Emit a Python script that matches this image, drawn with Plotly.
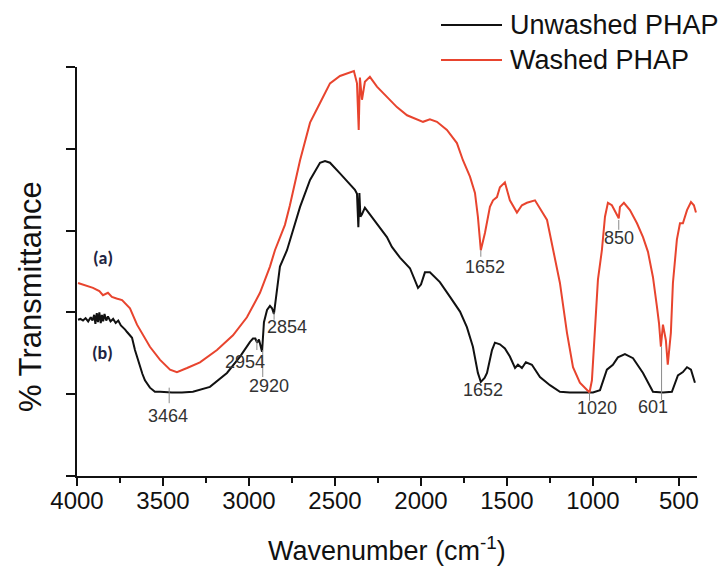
import plotly.graph_objects as go

# ---------------- data ----------------
unwashed_wn = [3994, 3980, 3965, 3950, 3935, 3920, 3910, 3900, 3893, 3885, 3878, 3870, 3862, 3855,
               3848, 3840, 3830, 3820, 3805, 3790, 3775, 3760, 3745, 3733, 3720, 3709, 3695, 3680,
               3663, 3650, 3634, 3620, 3605, 3590, 3576, 3547, 3517, 3448, 3390, 3326, 3227, 3128,
               3052, 2994, 2977, 2963, 2953, 2942, 2924, 2913, 2895, 2878, 2866, 2855, 2837, 2820,
               2779, 2744, 2703, 2645, 2587, 2558, 2529, 2471, 2413, 2384, 2372, 2364, 2358, 2352,
               2343, 2326, 2308, 2256, 2198, 2169, 2122, 2064, 2035, 2017, 2000, 1977, 1948, 1890,
               1831, 1773, 1733, 1698, 1669, 1652, 1630, 1616, 1587, 1570, 1541, 1512, 1483, 1453,
               1436, 1413, 1390, 1355, 1308, 1250, 1192, 1134, 1058, 1000, 959, 919, 884, 855, 814,
               767, 709, 651, 593, 541, 506, 477, 453, 430, 407]
unwashed_t = [1.91, 1.92, 1.90, 1.93, 1.89, 1.94, 1.90, 1.97, 1.86, 1.99, 1.88, 2.00, 1.87, 1.97,
              1.89, 1.98, 1.90, 1.95, 1.89, 1.92, 1.87, 1.90, 1.84, 1.82, 1.79, 1.76, 1.72, 1.69,
              1.54, 1.45, 1.33, 1.25, 1.17, 1.12, 1.08, 1.03, 1.03, 1.02, 1.02, 1.03, 1.09, 1.26,
              1.46, 1.64, 1.68, 1.68, 1.63, 1.67, 1.52, 1.88, 2.03, 2.08, 2.05, 1.98, 2.27, 2.56,
              2.76, 3.01, 3.29, 3.62, 3.83, 3.85, 3.83, 3.70, 3.56, 3.50, 3.45, 3.04, 3.46, 3.17,
              3.20, 3.28, 3.23, 3.09, 2.92, 2.80, 2.67, 2.54, 2.40, 2.30, 2.34, 2.49, 2.49, 2.37,
              2.19, 2.01, 1.82, 1.58, 1.26, 1.15, 1.20, 1.26, 1.54, 1.63, 1.61, 1.56, 1.46, 1.32,
              1.36, 1.32, 1.39, 1.36, 1.21, 1.11, 1.03, 1.02, 1.02, 1.02, 1.05, 1.30, 1.36, 1.45, 1.49,
              1.44, 1.26, 1.03, 1.02, 1.03, 1.23, 1.27, 1.33, 1.30, 1.14]

washed_wn = [3994, 3950, 3907, 3870, 3849, 3820, 3797, 3770, 3738, 3692, 3651, 3576, 3517, 3459,
             3419, 3360, 3285, 3186, 3093, 3012, 2936, 2878, 2849, 2791, 2762, 2703, 2645, 2587,
             2529, 2471, 2413, 2390, 2372, 2362, 2355, 2343, 2326, 2297, 2256, 2198, 2140, 2081,
             2047, 1988, 1948, 1907, 1849, 1791, 1756, 1715, 1686, 1669, 1652, 1628, 1599, 1581,
             1558, 1541, 1512, 1483, 1442, 1413, 1384, 1337, 1267, 1233, 1192, 1151, 1116, 1076,
             1020, 1006, 988, 971, 948, 930, 913, 890, 850, 843, 820, 785, 744, 709, 680, 651, 628,
             616, 605, 593, 576, 565, 547, 535, 512, 494, 477, 453, 430, 413, 401]
washed_t = [2.36, 2.33, 2.30, 2.26, 2.21, 2.24, 2.19, 2.17, 2.15, 2.05, 1.85, 1.58, 1.42, 1.30,
            1.27, 1.32, 1.39, 1.54, 1.72, 1.94, 2.24, 2.56, 2.76, 3.07, 3.31, 3.86, 4.32, 4.56,
            4.80, 4.89, 4.94, 4.95, 4.80, 4.23, 4.87, 4.60, 4.82, 4.88, 4.76, 4.63, 4.51, 4.41,
            4.38, 4.33, 4.36, 4.33, 4.23, 4.07, 3.86, 3.66, 3.46, 3.17, 2.76, 2.97, 3.29, 3.37,
            3.41, 3.53, 3.59, 3.37, 3.22, 3.31, 3.34, 3.37, 3.13, 2.76, 2.36, 1.75, 1.33, 1.14,
            1.02, 1.17, 1.75, 2.40, 2.76, 3.17, 3.34, 3.31, 3.15, 3.29, 3.34, 3.25, 3.09, 2.92,
            2.74, 2.43, 2.07, 1.87, 1.58, 1.85, 1.66, 1.36, 1.75, 2.36, 2.89, 3.09, 3.09, 3.25,
            3.35, 3.31, 3.22]

x_ticks = [4000, 3500, 3000, 2500, 2000, 1500, 1000, 500]

peak_labels = ["3464", "2954", "2920", "2854", "1652", "1652", "1020", "601", "850"]
peak_text_wn = [3471, 3023, 2884, 2779, 1628, 1640, 977, 651, 849]
peak_text_t = [0.73, 1.39, 1.10, 1.82, 2.55, 1.05, 0.83, 0.84, 2.91]
peak_line_wn = [3464, 2954, 2920, 2854, 1652, None, 1020, 601, 850]
peak_line_top = [1.08, 1.66, 1.54, 2.00, 2.76, None, 1.02, 1.58, 3.13]
peak_line_bot = [0.89, 1.54, 1.21, 1.91, 2.68, None, 0.92, 0.93, 3.01]

series_names = ["Unwashed PHAP", "Washed PHAP"]
series_colors = ["#111111", "#e8442e"]

# ---------------- figure ----------------
W, H = 723, 569
L, R, T, B = 77, 697, 67, 476

fig = go.Figure()
fig.add_trace(go.Scatter(x=unwashed_wn, y=unwashed_t, mode="lines", name=series_names[0],
                         line=dict(color=series_colors[0], width=2), showlegend=False))
fig.add_trace(go.Scatter(x=washed_wn, y=washed_t, mode="lines", name=series_names[1],
                         line=dict(color=series_colors[1], width=2), showlegend=False))

font_family = "Arial, Liberation Sans, sans-serif"
annotations = []
shapes = []
for lab, tx, ty, lx, lt, lb in zip(peak_labels, peak_text_wn, peak_text_t,
                                   peak_line_wn, peak_line_top, peak_line_bot):
    annotations.append(dict(x=tx, y=ty, xref="x", yref="y", text=lab, showarrow=False,
                            font=dict(size=18, color="#333333", family=font_family)))
    if lx is not None:
        shapes.append(dict(type="line", xref="x", yref="y", x0=lx, x1=lx, y0=lb, y1=lt,
                           line=dict(color="#8a8a8a", width=1)))

# (a) / (b) labels
ab_font = dict(size=18, color="#1e2442", family="Carlito, Calibri, Lato, sans-serif")
annotations.append(dict(x=3849, y=2.66, xref="x", yref="y", text="<b>(a)</b>", showarrow=False,
                        font=ab_font))
annotations.append(dict(x=3849, y=1.50, xref="x", yref="y", text="<b>(b)</b>", showarrow=False,
                        font=ab_font))


def px_x(p):
    return (p - L) / (R - L)


def px_y(p):
    return (B - p) / (B - T)


# legend drawn manually
for nm, col, yy in zip(series_names, series_colors, [25, 60]):
    shapes.append(dict(type="line", xref="paper", yref="paper", x0=px_x(441), x1=px_x(502),
                       y0=px_y(yy), y1=px_y(yy), line=dict(color=col, width=2)))
    annotations.append(dict(x=px_x(508), y=px_y(yy), xref="paper", yref="paper", text=nm,
                            showarrow=False, xanchor="left", yanchor="middle",
                            font=dict(size=27, color="#111111", family=font_family)))

# axis titles
annotations.append(dict(x=px_x(387), y=px_y(549), xref="paper", yref="paper",
                        text="Wavenumber (cm<sup>-1</sup>)", showarrow=False,
                        xanchor="center", yanchor="middle",
                        font=dict(size=27, color="#111111", family=font_family)))
annotations.append(dict(x=px_x(30), y=px_y(297), xref="paper", yref="paper",
                        text="% Transmittance", showarrow=False, textangle=-90,
                        xanchor="center", yanchor="middle",
                        font=dict(size=31, color="#111111", family=font_family)))

fig.update_layout(
    width=W, height=H,
    margin=dict(l=L, r=W - R, t=T, b=H - B, pad=0),
    paper_bgcolor="white", plot_bgcolor="white",
    annotations=annotations, shapes=shapes,
    showlegend=False,
    font=dict(family=font_family, color="#111111"),
)
fig.update_xaxes(range=[4000, 395], tickvals=x_ticks, ticktext=[str(v) for v in x_ticks],
                 showgrid=False, zeroline=False, showline=True, linecolor="#111111", linewidth=2,
                 ticks="outside", ticklen=8, tickwidth=2, tickcolor="#111111",
                 ticklabelstandoff=-6,
                 tickfont=dict(size=24, color="#111111", family=font_family),
                 minor=dict(ticks="outside", ticklen=5, tickwidth=2, tickcolor="#111111",
                            tickvals=[3750, 3250, 2750, 2250, 1750, 1250, 750]))
fig.update_yaxes(range=[0, 5], dtick=1, tick0=0, showticklabels=False, showgrid=False,
                 zeroline=False, showline=True, linecolor="#111111", linewidth=2,
                 ticks="outside", ticklen=9, tickwidth=2, tickcolor="#111111")

fig.write_html("out.html")
